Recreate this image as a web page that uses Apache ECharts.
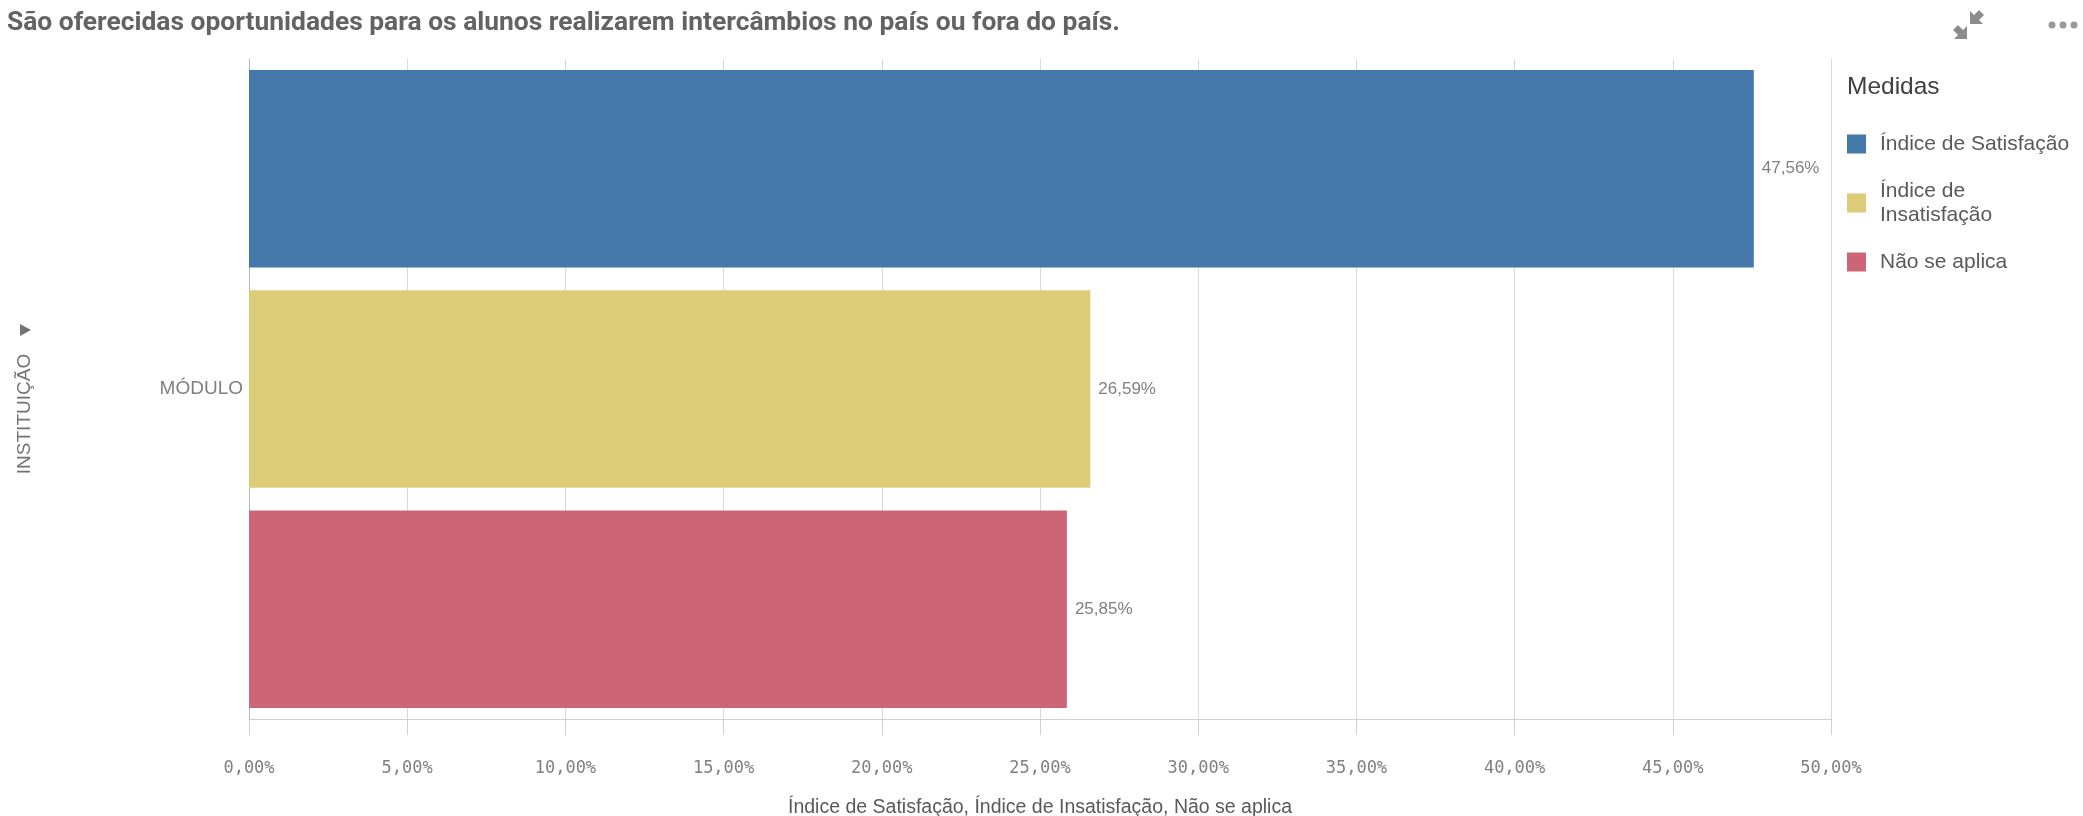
<!DOCTYPE html>
<html>
<head>
<meta charset="utf-8">
<script src="https://cdn.jsdelivr.net/npm/echarts@6/dist/echarts.min.js"></script>
<style>
html,body{margin:0;padding:0;background:#fff;}
#c{width:2083px;height:816px;}
</style>
</head>
<body>
<div id="c"></div>
<script>
const titleText = 'São oferecidas oportunidades para os alunos realizarem intercâmbios no país ou fora do país.';
const categories = ['MÓDULO'];
const seriesNames = ['Índice de Satisfação', 'Índice de Insatisfação', 'Não se aplica'];
const satisfacao = [47.56];
const insatisfacao = [26.59];
const naoSeAplica = [25.85];
const xTicks = [0, 5, 10, 15, 20, 25, 30, 35, 40, 45, 50];
const colors = ['#4477aa', '#ddcc77', '#cc6677'];

const fmt = v => v.toFixed(2).replace('.', ',') + '%';
const values = [satisfacao, insatisfacao, naoSeAplica];

const chart = echarts.init(document.getElementById('c'));
chart.setOption({
  animation: false,
  title: [
    {text: titleText, left: 7, top: 10, padding: 0,
     textStyle: {fontFamily: 'Roboto', fontWeight: 'bold', fontSize: 26.4, color: '#636363'}},
    {text: 'Medidas', left: 1847, top: 75, padding: 0,
     textStyle: {fontFamily: 'Liberation Sans', fontWeight: 'normal', fontSize: 24.5, color: '#404040'}}
  ],
  legend: {
    orient: 'vertical', left: 1847, top: 132, padding: 0,
    itemWidth: 19, itemHeight: 19, itemGap: 23, icon: 'rect',
    data: seriesNames,
    formatter: n => n === 'Índice de Insatisfação' ? 'Índice de\nInsatisfação' : n,
    textStyle: {fontFamily: 'Liberation Sans', fontSize: 21, color: '#595959', lineHeight: 24, padding: [0, 0, 0, 9]}
  },
  grid: {left: 249, right: 252, top: 59, bottom: 97, containLabel: false, outerBoundsMode: 'none'},
  xAxis: {
    type: 'value', min: xTicks[0], max: xTicks[xTicks.length - 1], interval: 5,
    axisLine: {show: true, lineStyle: {color: '#d0d0d0', width: 1}},
    axisTick: {show: true, length: 16, lineStyle: {color: '#d0d0d0'}},
    splitLine: {show: true, lineStyle: {color: '#d9d9d9', width: 1}},
    axisLabel: {margin: 41, formatter: fmt, fontFamily: 'DejaVu Sans Mono', fontSize: 17, color: '#808080'},
    name: 'Índice de Satisfação, Índice de Insatisfação, Não se aplica',
    nameLocation: 'middle', nameGap: 79,
    nameTextStyle: {fontFamily: 'Liberation Sans', fontSize: 19.5, color: '#595959'}
  },
  yAxis: {
    type: 'category', data: categories, inverse: true,
    axisLine: {show: true, lineStyle: {color: '#b8b8b8'}},
    axisTick: {show: false},
    axisLabel: {margin: 6, fontFamily: 'Liberation Sans', fontSize: 19, color: '#808080'}
  },
  series: seriesNames.map((n, i) => ({
    name: n, type: 'bar', data: values[i],
    barCategoryGap: '3.3%', barGap: '11.4%',
    itemStyle: {color: colors[i]},
    label: {show: true, position: 'right', distance: 8, formatter: p => fmt(p.value),
            fontFamily: 'Liberation Sans', fontSize: 17, color: '#808080'}
  })),
  graphic: [
    {type: 'text', x: 25, y: 414, rotation: Math.PI / 2,
     style: {text: 'INSTITUIÇÃO', fontFamily: 'Liberation Sans', fontSize: 19, fill: '#737373', align: 'center', verticalAlign: 'middle'}},
    {type: 'polygon', shape: {points: [[20, 324], [31, 330], [20, 336]]}, style: {fill: '#737373'}},
    {type: 'polygon', shape: {points: [[1970, 11], [1970, 24], [1983, 24], [1979, 20], [1984, 15], [1979, 10], [1974, 15]]}, style: {fill: '#8c8c8c'}},
    {type: 'polygon', shape: {points: [[1967, 26], [1967, 39], [1954, 39], [1958, 35], [1953, 30], [1958, 25], [1963, 30]]}, style: {fill: '#8c8c8c'}},
    {type: 'circle', shape: {cx: 2052, cy: 25, r: 3.5}, style: {fill: '#999'}},
    {type: 'circle', shape: {cx: 2063, cy: 25, r: 3.5}, style: {fill: '#999'}},
    {type: 'circle', shape: {cx: 2074, cy: 25, r: 3.5}, style: {fill: '#999'}}
  ]
});
</script>
</body>
</html>
